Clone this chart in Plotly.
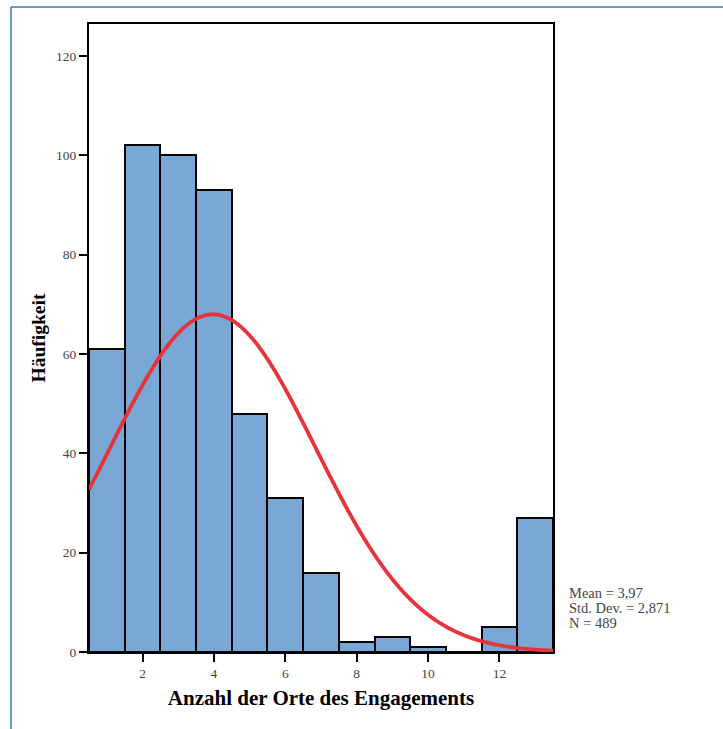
import numpy as np
import plotly.graph_objects as go

# Data
categories = [1, 2, 3, 4, 5, 6, 7, 8, 9, 10, 11, 12, 13]
counts = [61, 102, 100, 93, 48, 31, 16, 2, 3, 1, 0, 5, 27]
mean_val = 3.97
std_val = 2.871
n_val = 489
x_ticks = [2, 4, 6, 8, 10, 12]
y_ticks = [0, 20, 40, 60, 80, 100, 120]
stat_lines = [
    f"Mean = {str(mean_val).replace('.', ',')}",
    f"Std. Dev. = {str(std_val).replace('.', ',')}",
    f"N = {n_val}",
]

# Fitted normal curve (from the stated statistics)
xc = np.linspace(0.5, 13.5, 600)
yc = n_val * 1.0 / (std_val * np.sqrt(2 * np.pi)) * np.exp(-0.5 * ((xc - mean_val) / std_val) ** 2)

serif = "Liberation Serif, Times New Roman, serif"

fig = go.Figure()
fig.add_trace(go.Bar(
    x=categories, y=counts, width=1,
    marker=dict(color="#7aa8d6", line=dict(color="black", width=2)),
    showlegend=False, hoverinfo="x+y",
))
fig.add_trace(go.Scatter(
    x=xc, y=yc, mode="lines",
    line=dict(color="#e8323c", width=3.8, shape="spline"),
    showlegend=False, hoverinfo="skip",
))

annots = []
for i, t in enumerate(stat_lines):
    annots.append(dict(
        x=1.03, y=0.094 - i * 0.0239, xref="paper", yref="paper",
        xanchor="left", yanchor="middle", text=t, showarrow=False, align="left",
        font=dict(family=serif, size=14.5, color="#444444"),
    ))

fig.update_layout(
    width=723, height=729,
    margin=dict(l=89, r=170, t=24, b=77),
    paper_bgcolor="white", plot_bgcolor="white",
    font=dict(family=serif, color="#444444", size=13),
    bargap=0,
    xaxis=dict(
        range=[0.5, 13.5], tickvals=x_ticks, ticktext=[str(v) for v in x_ticks],
        showline=True, mirror=True, linecolor="black", linewidth=2,
        ticks="outside", ticklen=8, tickwidth=2, tickcolor="black",
        showgrid=False, zeroline=False,
        tickfont=dict(family=serif, size=13.5, color="#444444"),
        title=dict(text="<b>Anzahl der Orte des Engagements</b>",
                   font=dict(family=serif, size=21, color="black"), standoff=10),
    ),
    yaxis=dict(
        range=[0, 126.4], tickvals=y_ticks, ticktext=[str(v) for v in y_ticks],
        showline=True, mirror=True, linecolor="black", linewidth=2,
        ticks="outside", ticklen=8, tickwidth=2, tickcolor="black",
        showgrid=False, zeroline=False,
        tickfont=dict(family=serif, size=13.5, color="#444444"),
        title=dict(text="<b>Häufigkeit</b>",
                   font=dict(family=serif, size=19.5, color="black"), standoff=5),
    ),
    annotations=annots,
    shapes=[
        dict(type="line", xref="paper", yref="paper", x0=-0.1681, x1=-0.1681, y0=1.0271, y1=-0.2,
             line=dict(color="#3d7c98", width=1.5)),
        dict(type="line", xref="paper", yref="paper", x0=-0.1681, x1=1.4, y0=1.0271, y1=1.0271,
             line=dict(color="#3d7c98", width=1.5)),
    ],
)

fig.write_html("out.html")
